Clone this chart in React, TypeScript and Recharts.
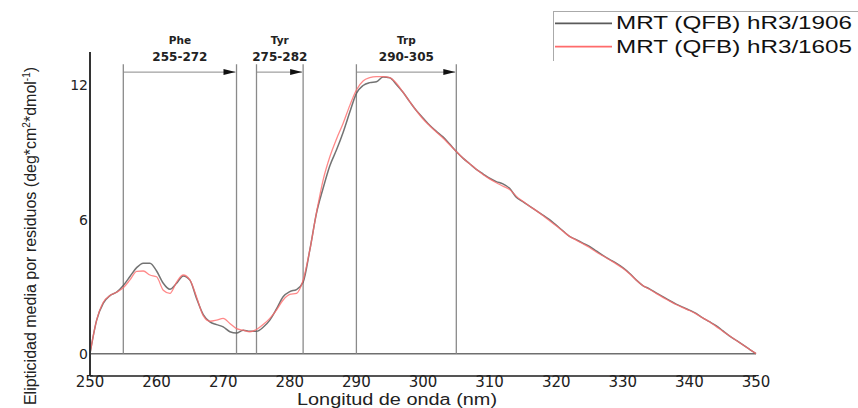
import { LineChart, Line, XAxis, YAxis, ReferenceLine, Legend } from "recharts";

const wavelength = Array.from({ length: 101 }, (_, i) => 250 + i);

// MRT (QFB) hR3/1906
const mrt1906 = [
  0, 1.5, 2.26, 2.6, 2.75, 3.05, 3.45, 3.85, 4.05, 4.05,
  3.7, 3.15, 2.88, 3.15, 3.48, 3.29, 2.47, 1.75, 1.42, 1.3,
  1.2, 0.98, 0.92, 1.05, 1.0, 1.0, 1.18, 1.5, 2.0, 2.55,
  2.78, 2.87, 3.2, 4.63, 6.28, 7.4, 8.4, 9.11, 9.9, 10.8,
  11.65, 12.0, 12.13, 12.17, 12.38, 12.35, 12.05, 11.7, 11.28, 10.88,
  10.55, 10.22, 9.95, 9.7, 9.38, 9.05, 8.75, 8.5, 8.25, 8.05,
  7.85, 7.7, 7.6, 7.4, 7.0, 6.8, 6.6, 6.4, 6.2, 6.0,
  5.75, 5.5, 5.25, 5.1, 4.95, 4.8, 4.6, 4.4, 4.22, 4.05,
  3.85, 3.6, 3.3, 3.05, 2.9, 2.72, 2.55, 2.38, 2.22, 2.08,
  1.95, 1.8, 1.6, 1.43, 1.25, 1.03, 0.8, 0.6, 0.4, 0.2,
  0,
];

// MRT (QFB) hR3/1605
const mrt1605 = [
  0, 1.5, 2.3, 2.6, 2.75, 2.95, 3.3, 3.68, 3.7, 3.52,
  3.44, 2.84, 2.7, 3.2, 3.52, 3.3, 2.54, 1.7, 1.45, 1.5,
  1.58, 1.35, 1.12, 1.05, 0.98, 1.08, 1.3, 1.58, 1.95, 2.4,
  2.65, 2.7, 3.29, 4.63, 6.3, 7.77, 8.8, 9.6, 10.3, 11.1,
  11.8, 12.2, 12.35, 12.4, 12.4, 12.35, 12.1, 11.7, 11.28, 10.88,
  10.5, 10.2, 9.92, 9.65, 9.35, 9.05, 8.75, 8.5, 8.25, 8.02,
  7.82, 7.65, 7.5, 7.35, 7.05, 6.82, 6.6, 6.4, 6.18, 5.95,
  5.72, 5.48, 5.25, 5.08, 4.92, 4.75, 4.55, 4.38, 4.2, 4.02,
  3.82, 3.58, 3.3, 3.05, 2.88, 2.7, 2.52, 2.36, 2.2, 2.06,
  1.93, 1.78, 1.6, 1.43, 1.22, 1.0, 0.8, 0.6, 0.4, 0.2,
  0,
];

const xTicks = [250, 260, 270, 280, 290, 300, 310, 320, 330, 340, 350];
const yTicks = [0, 6, 12];

const bandNames = ["Phe", "Tyr", "Trp"];
const bandStart = [255, 275, 290];
const bandEnd = [272, 282, 305];
const bandTop = 12.95;
const arrowLevel = 12.6;

const seriesNames = ["MRT (QFB) hR3/1906", "MRT (QFB) hR3/1605"];
const seriesColors = ["#5a5a5a", "#ff6b6b"];

const data = wavelength.map((nm, i) => ({ nm, a: mrt1906[i], b: mrt1605[i] }));

function BandArrow(props: any) {
  const { x1, y1, x2, name, range } = props;
  const mid = (x1 + x2) / 2;
  return (
    <g>
      <line x1={x1} y1={y1} x2={x2 - 1} y2={y1} stroke="#8a8a8a" strokeWidth={1} />
      <polygon points={`${x2 - 1},${y1} ${x2 - 13},${y1 - 3} ${x2 - 13},${y1 + 3}`} fill="#111" />
      <text x={mid} y={y1 - 28} textAnchor="middle" fontFamily="DejaVu Sans" fontWeight="bold" fontSize={10.5} fill="#222">
        {name}
      </text>
      <text x={mid} y={y1 - 11} textAnchor="middle" fontFamily="DejaVu Sans" fontWeight="bold" fontSize={12} fill="#222">
        {range}
      </text>
    </g>
  );
}

function LegendBox() {
  return (
    <svg width={310} height={50} style={{ display: "block" }}>
      <rect x={0.5} y={0.5} width={320} height={60} fill="#fff" stroke="#aaa" strokeWidth={1} />
      {seriesNames.map((n, i) => (
        <g key={n}>
          <line x1={2} y1={12.3 + i * 23.4} x2={59} y2={12.3 + i * 23.4} stroke={seriesColors[i]} strokeWidth={1.8} />
          <text
            x={63}
            y={18 + i * 23.5}
            fontFamily="Liberation Sans, Arial"
            fontSize={19}
            fill="#111"
            textLength={236}
            lengthAdjust="spacingAndGlyphs"
          >
            {n}
          </text>
        </g>
      ))}
    </svg>
  );
}

const YTitle = () => (
  <text
    transform="translate(36,236) rotate(-90)"
    textAnchor="middle"
    fontFamily="Liberation Sans, Arial"
    fontSize={16}
    fill="#222"
  >
    Elipticidad media por residuos (deg*cm
    <tspan dy={-6} fontSize={10}>2</tspan>
    <tspan dy={6}>*dmol</tspan>
    <tspan dy={-6} fontSize={10}>-1</tspan>
    <tspan dy={6}>)</tspan>
  </text>
);

const XTitle = () => (
  <text
    x={297}
    y={404.5}
    fontFamily="Liberation Sans, Arial"
    fontSize={16}
    textLength={200}
    lengthAdjust="spacingAndGlyphs"
    fill="#222"
  >
    Longitud de onda (nm)
  </text>
);

export default function App() {
  return (
    <div style={{ position: "absolute", left: 0, top: 0, width: 858, height: 408, background: "#fff" }}>
      <LineChart width={858} height={408} data={data} margin={{ top: 52, right: 102, left: 0, bottom: 2 }}>
        <XAxis
          dataKey="nm"
          type="number"
          domain={[250, 350]}
          ticks={xTicks}
          interval={0}
          height={30}
          tickLine={false}
          tickSize={0}
          tickMargin={0}
          axisLine={{ stroke: "#555", strokeWidth: 2 }}
          tick={{ fill: "#222", fontSize: 15, fontFamily: "DejaVu Sans" }}
          label={{ content: XTitle }}
        />
        <YAxis
          type="number"
          domain={[-1, 13.5]}
          ticks={yTicks}
          interval={0}
          tickLine={false}
          tickSize={0}
          tickMargin={2}
          width={90}
          axisLine={{ stroke: "#333", strokeWidth: 2 }}
          tick={{ fill: "#222", fontSize: 14, fontFamily: "DejaVu Sans" }}
          label={{ content: YTitle }}
        />
        <ReferenceLine y={0} stroke="#6f6f6f" strokeWidth={1.5} />
        {bandStart.map((s, i) => (
          <ReferenceLine
            key={`s${i}`}
            segment={[{ x: s, y: 0 }, { x: s, y: bandTop }]}
            stroke="#8a8a8a"
            strokeWidth={1.3}
          />
        ))}
        {bandEnd.map((e, i) => (
          <ReferenceLine
            key={`e${i}`}
            segment={[{ x: e, y: 0 }, { x: e, y: bandTop }]}
            stroke="#8a8a8a"
            strokeWidth={1.3}
          />
        ))}
        {bandNames.map((n, i) => (
          <ReferenceLine
            key={n}
            segment={[{ x: bandStart[i], y: arrowLevel }, { x: bandEnd[i], y: arrowLevel }]}
            shape={(p: any) => <BandArrow {...p} name={n} range={`${bandStart[i]}-${bandEnd[i]}`} />}
          />
        ))}
        <Line type="monotone" dataKey="a" name={seriesNames[0]} stroke={seriesColors[0]} strokeWidth={1.5} strokeOpacity={0.85} dot={false} isAnimationActive={false} />
        <Line type="monotone" dataKey="b" name={seriesNames[1]} stroke={seriesColors[1]} strokeWidth={1.3} strokeOpacity={0.8} dot={false} isAnimationActive={false} />
        <Legend
          layout="horizontal"
          verticalAlign="middle"
          align="center"
          wrapperStyle={{ left: 553, top: 11, width: 310, height: 50, overflow: "hidden" }}
          content={() => <LegendBox />}
        />
      </LineChart>
    </div>
  );
}
